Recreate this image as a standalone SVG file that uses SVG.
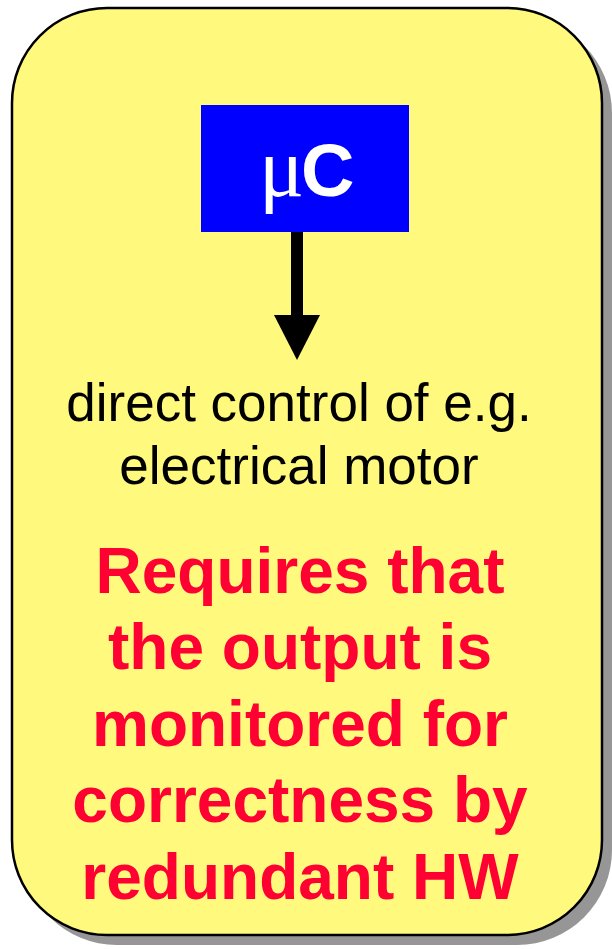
<svg xmlns="http://www.w3.org/2000/svg" width="612" height="949" viewBox="0 0 612 949">
<style>
.body{font-family:"Liberation Sans",Arial,sans-serif;font-size:53px;fill:#000;text-anchor:middle}
.warn{font-family:"Liberation Sans",Arial,sans-serif;font-size:64px;font-weight:bold;fill:#FF0033;text-anchor:middle}
.mu{font-family:"Liberation Serif","Times New Roman",serif;font-size:84px}
.c{font-family:"Liberation Sans",Arial,sans-serif;font-weight:bold;font-size:74px}
</style>
<g id="panel">
<rect x="22" y="18" width="590" height="927" rx="95" ry="95" fill="#969696"/>
<rect x="12" y="8" width="590" height="927" rx="95" ry="95" fill="#FFF97D" stroke="#000" stroke-width="2.5"/>
</g>
<g id="uc">
<rect x="201" y="105" width="208" height="127" fill="#0000FF"/>
<text x="259" y="196" fill="#FFFFFF"><tspan class="mu">μ</tspan><tspan class="c" dx="-3">C</tspan></text>
</g>
<g id="connectors">
<line x1="297" y1="232" x2="297" y2="318" stroke="#000" stroke-width="12"/>
<path d="M274,315 L320,315 L297,360 Z" fill="#000"/>
</g>
<g id="label">
<text class="body" x="299" y="421">direct control of e.g.</text>
<text class="body" x="299" y="484">electrical motor</text>
</g>
<g id="note">
<text class="warn" x="300" y="593">Requires that</text>
<text class="warn" x="300" y="669">the output is</text>
<text class="warn" x="300" y="746">monitored for</text>
<text class="warn" x="300" y="822">correctness by</text>
<text class="warn" x="300" y="899">redundant HW</text>
</g>
</svg>
